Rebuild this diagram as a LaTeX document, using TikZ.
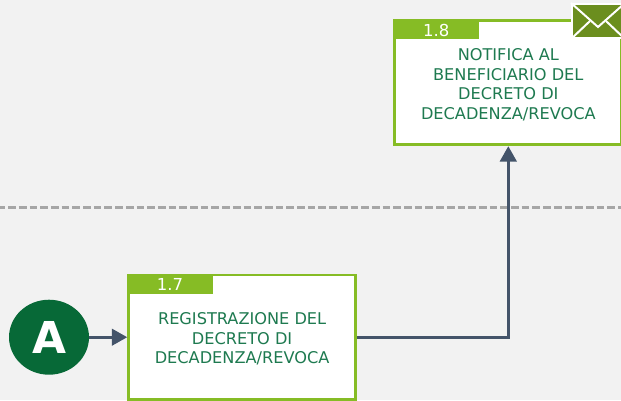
\documentclass[tikz,border=0pt]{standalone}
\usepackage{fontspec}
\setmainfont{DejaVu Sans}
\usepackage{tikz}
\usetikzlibrary{arrows.meta, positioning, shapes.geometric}
\definecolor{bgGrey}{HTML}{F2F2F2}
\definecolor{limeGreen}{HTML}{86BC25}
\definecolor{darkGreen}{HTML}{076937}
\definecolor{textGreen}{HTML}{1E7A50}
\definecolor{arrowBlue}{HTML}{44546A}
\definecolor{mailGreen}{HTML}{6B8E1E}
\newcommand{\firstline}{\rule{0pt}{9.1pt}}
\tikzset{
    taskbox/.style={draw=limeGreen, fill=white, line width=0.055cm, rectangle, align=center, text=textGreen, font=\fontsize{9.2}{11.1}\selectfont, minimum width=4.54cm, minimum height=2.49cm, inner sep=0pt},
    tasktab/.style={fill=limeGreen, text=white, rectangle, font=\fontsize{9.4}{10}\selectfont, minimum width=1.7cm, minimum height=0.4cm, inner sep=0pt, text height=8pt, text depth=0pt},
    flowline/.style={draw=arrowBlue, line width=0.062cm, -{Triangle[length=0.31cm,width=0.33cm]}},
}
\begin{document}
\begin{tikzpicture}[x=0.02cm,y=-0.02cm]
    \useasboundingbox (0,0) rectangle (621,400);
    \clip (0,0) rectangle (621,400);
    \fill[bgGrey] (0,0) rectangle (621,400);

    \coordinate (sepL) at (0,207.5);
    \coordinate (sepR) at (621,207.5);
    \draw[gray!70, line width=0.058cm, dash pattern=on 0.154cm off 0.06cm, dash phase=0.05cm] (sepL) -- (sepR);

    \node[taskbox] (t17) at (242.1,337.2) {\firstline REGISTRAZIONE DEL \\ DECRETO DI \\ DECADENZA/REVOCA};
    \node[taskbox] (t18) at (508.3,82.5) {\firstline NOTIFICA AL \\ BENEFICIARIO DEL \\ DECRETO DI \\ DECADENZA/REVOCA};
    \node[tasktab, anchor=north west] (n17) at (t17.north west) {1.7};
    \node[tasktab, anchor=north west] (n18) at (t18.north west) {1.8};
    \node[ellipse, fill=darkGreen, text=white, minimum width=1.6cm, minimum height=1.5cm, inner sep=0pt, font=\fontsize{25}{28}\selectfont\bfseries] (conn) at (49,337.2) {A};

    \draw[flowline] (conn) -- (t17);
    \draw[flowline] (t17.east) -| (t18.south);

    % envelope
    \node[draw=white, fill=mailGreen, line width=0.04cm, rectangle, minimum width=1.04cm, minimum height=0.68cm, inner sep=0pt] (mail) at (598,21) {};
    \draw[white, line width=0.04cm] (mail.north west) -- (598,27) -- (mail.north east);
    \draw[white, line width=0.04cm] (mail.south west) -- (590,21);
    \draw[white, line width=0.04cm] (mail.south east) -- (606,21);
\end{tikzpicture}
\end{document}
